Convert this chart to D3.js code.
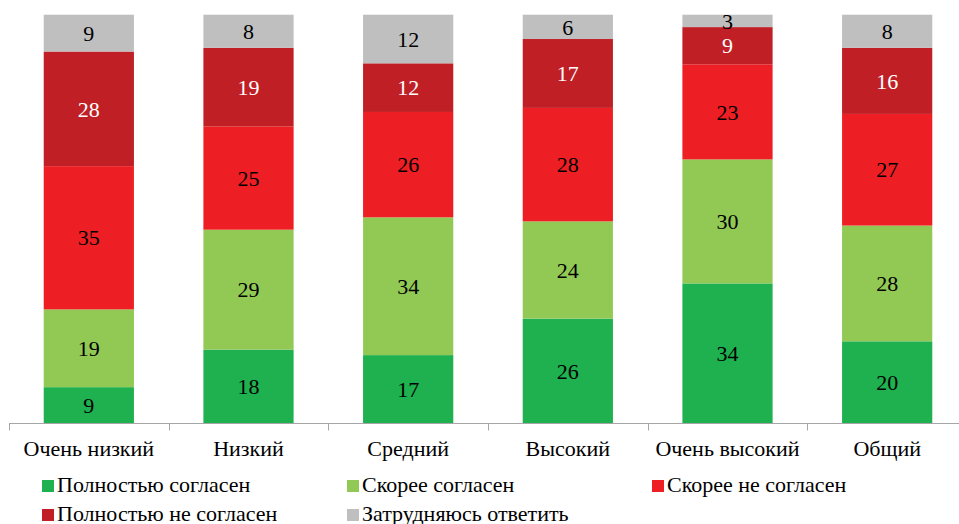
<!DOCTYPE html>
<html>
<head>
<meta charset="utf-8">
<script src="https://cdn.jsdelivr.net/npm/d3@7"></script>
<style>
  body { margin: 0; background: #fff; }
</style>
</head>
<body>
<div id="chart"></div>
<script>
// categories and series (percent, as labelled on the chart)
const categories = ["Очень низкий", "Низкий", "Средний", "Высокий", "Очень высокий", "Общий"];
const seriesNames = ["Полностью согласен", "Скорее согласен", "Скорее не согласен", "Полностью не согласен", "Затрудняюсь ответить"];
const fullyAgree     = [9, 18, 17, 26, 34, 20];
const ratherAgree    = [19, 29, 34, 24, 30, 28];
const ratherDisagree = [35, 25, 26, 28, 23, 27];
const fullyDisagree  = [28, 19, 12, 17, 9, 16];
const hardToSay      = [9, 8, 12, 6, 3, 8];

const seriesValues = [fullyAgree, ratherAgree, ratherDisagree, fullyDisagree, hardToSay];
const colors = ["#1fb04f", "#92c955", "#ee1f24", "#c01f26", "#bfbfbf"];
const labelColors = ["#000", "#000", "#000", "#fff", "#000"];
const FONT = "'Liberation Serif', 'Times New Roman', serif";

const W = 959, H = 524;
const svg = d3.select("#chart").append("svg")
    .attr("width", W)
    .attr("height", H)
    .style("display", "block");

const x = d3.scaleBand()
    .domain(categories)
    .range([9, 967])
    .padding(0);

const y = d3.scaleLinear()
    .domain([0, 100])
    .range([424, 14.7]);

const barW = x.bandwidth() * 0.565;

// 100% stacked: each column normalised to its total
const rows = categories.map((c, i) => {
    const r = {cat: c};
    seriesNames.forEach((s, j) => r[s] = seriesValues[j][i]);
    return r;
});

const stack = d3.stack().keys(seriesNames).offset(d3.stackOffsetExpand);
const stacked = stack(rows);

const layers = svg.append("g").selectAll("g")
    .data(stacked)
    .enter().append("g")
    .attr("fill", (d, i) => colors[i]);

layers.selectAll("rect")
    .data(d => d)
    .enter().append("rect")
    .attr("x", d => x(d.data.cat) + (x.bandwidth() - barW) / 2)
    .attr("width", barW)
    .attr("y", d => y(d[1] * 100))
    .attr("height", d => y(d[0] * 100) - y(d[1] * 100));

// value labels
stacked.forEach((layer, i) => {
    svg.append("g").selectAll("text")
        .data(layer)
        .enter().append("text")
        .attr("x", d => x(d.data.cat) + x.bandwidth() / 2)
        .attr("y", d => y((d[0] + d[1]) / 2 * 100))
        .attr("dy", "0.35em")
        .attr("text-anchor", "middle")
        .style("font-family", FONT)
        .style("font-size", "22px")
        .attr("fill", labelColors[i])
        .text(d => d.data[layer.key]);
});

// x axis
const axis = svg.append("g")
    .attr("transform", "translate(0,423.5)")
    .call(d3.axisBottom(x).tickSize(0).tickFormat(""));
axis.select(".domain").attr("stroke", "#a6a6a6").attr("d", "M9,0H967");

const tickPos = categories.map(c => x(c)).concat([x(categories[categories.length - 1]) + x.bandwidth()]);
axis.selectAll(".sep")
    .data(tickPos)
    .enter().append("line")
    .attr("class", "sep")
    .attr("x1", d => Math.round(d) + 0.5)
    .attr("x2", d => Math.round(d) + 0.5)
    .attr("y1", 0)
    .attr("y2", 7)
    .attr("stroke", "#a6a6a6");

svg.append("g").selectAll("text")
    .data(categories)
    .enter().append("text")
    .attr("x", d => x(d) + x.bandwidth() / 2)
    .attr("y", 456)
    .attr("text-anchor", "middle")
    .style("font-family", FONT)
    .style("font-size", "22px")
    .attr("fill", "#000")
    .text(d => d);

// legend
const legendPos = [[42, 480], [347, 480], [652, 480], [42, 509], [347, 509]];
const legend = svg.append("g").selectAll("g")
    .data(seriesNames)
    .enter().append("g")
    .attr("transform", (d, i) => `translate(${legendPos[i][0]},${legendPos[i][1]})`);

legend.append("rect")
    .attr("width", 12)
    .attr("height", 12)
    .attr("fill", (d, i) => colors[i]);

legend.append("text")
    .attr("x", 15)
    .attr("y", 12)
    .style("font-family", FONT)
    .style("font-size", "22px")
    .attr("fill", "#000")
    .text(d => d);
</script>
</body>
</html>
